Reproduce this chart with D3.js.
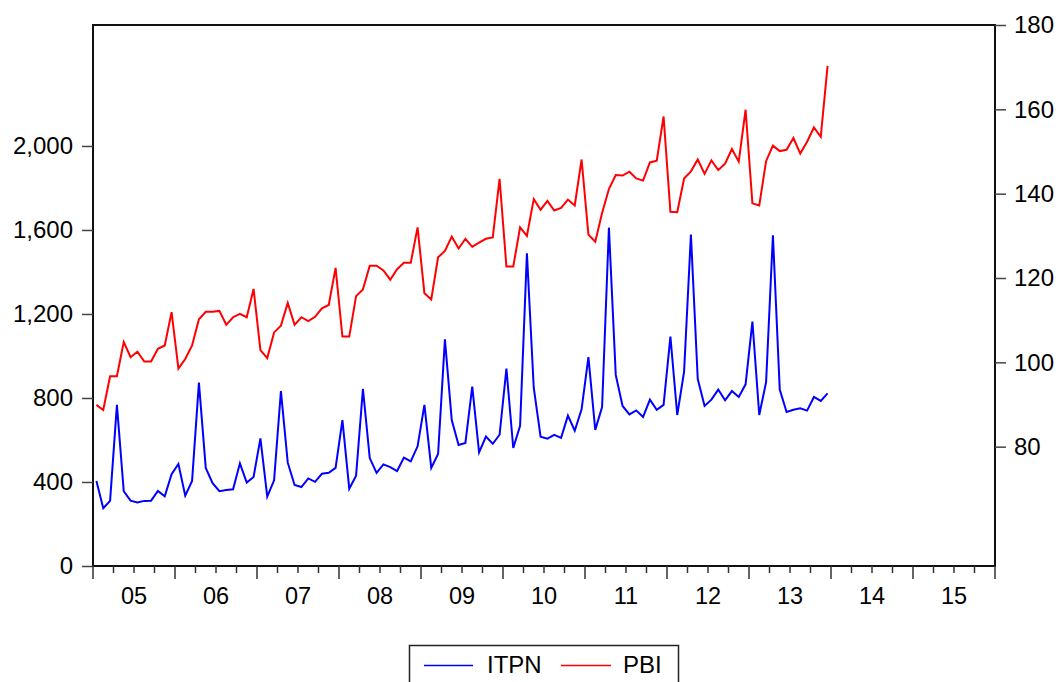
<!DOCTYPE html>
<html>
<head>
<meta charset="utf-8">
<script src="https://cdn.jsdelivr.net/npm/d3@7"></script>
<style>
  html, body { margin: 0; padding: 0; background: #fff; }
  svg { display: block; }
  text { font-family: "Liberation Sans", Arial, sans-serif; fill: #000; }
</style>
</head>
<body>
<svg id="chart" width="1060" height="682"></svg>
<script>
// Monthly observations 2005M01 .. 2013M12
const startYear = 2005;
const months = d3.range(108).map(i => `${startYear + Math.floor(i / 12)}M${String(i % 12 + 1).padStart(2, "0")}`);

const itpn = [
  405, 275, 310, 767, 356, 311, 302, 310, 311, 357, 332, 437,
  486, 335, 405, 873, 467, 394, 356, 362, 365, 489, 397, 424,
  608, 330, 408, 833, 492, 386, 376, 417, 401, 439, 444, 467,
  695, 368, 430, 843, 514, 443, 484, 471, 452, 516, 498, 570,
  767, 467, 533, 1079, 695, 576, 586, 854, 541, 616, 582, 625,
  940, 562, 668, 1489, 849, 616, 606, 624, 610, 716, 644, 746,
  995, 648, 757, 1611, 910, 762, 722, 741, 710, 792, 744, 767,
  1092, 719, 925, 1578, 890, 762, 792, 840, 789, 833, 805, 865,
  1164, 719, 875, 1575, 840, 733, 744, 751, 740, 805, 786, 822
];

const pbi = [
  89.9, 88.7, 96.7, 96.7, 104.8, 101.2, 102.5, 100.2, 100.2, 103.2, 104.0, 111.9,
  98.5, 100.8, 104.0, 110.2, 112.0, 112.0, 112.2, 108.9, 110.7, 111.5, 110.7, 117.4,
  102.9, 101.0, 107.1, 108.7, 114.1, 108.9, 110.7, 109.8, 110.8, 112.8, 113.6, 122.4,
  106.1, 106.1, 115.7, 117.3, 122.9, 122.9, 121.8, 119.6, 122.1, 123.6, 123.6, 132.0,
  116.4, 114.9, 124.9, 126.4, 129.8, 127.0, 129.3, 127.4, 128.4, 129.3, 129.6, 143.5,
  122.7, 122.7, 132.0, 130.0, 138.7, 136.2, 138.3, 136.0, 136.6, 138.6, 137.2, 148.1,
  130.3, 128.6, 135.4, 141.1, 144.4, 144.3, 145.2, 143.6, 143.1, 147.4, 147.8, 158.3,
  135.7, 135.6, 143.6, 145.3, 148.1, 144.7, 147.9, 145.6, 147.1, 150.6, 147.6, 159.9,
  137.7, 137.2, 147.7, 151.4, 150.1, 150.4, 153.2, 149.5, 152.3, 155.7, 153.5, 170.3
];

const leftTicks = [0, 400, 800, 1200, 1600, 2000];
const rightTicks = [80, 100, 120, 140, 160, 180];
const yearLabels = ["05", "06", "07", "08", "09", "10", "11", "12", "13", "14", "15"];
const seriesNames = ["ITPN", "PBI"];
const seriesColors = ["#0000ff", "#ff0000"];

const L = 93, R = 995, T = 25, B = 566;
const svg = d3.select("#chart");

const x = d3.scaleLinear().domain([2005, 2016]).range([L, R]);
const yL = d3.scaleLinear().domain([0, 2576]).range([B, T]);
const yR = d3.scaleLinear().domain([51.7, 180]).range([B, T]);

const tx = i => x(startYear + (i + 0.5) / 12);

// Frame
svg.append("rect").attr("x", L).attr("y", T).attr("width", R - L).attr("height", B - T)
  .attr("fill", "none").attr("stroke", "#111").attr("stroke-width", 2);

// Left axis
const gl = svg.append("g").attr("transform", `translate(${L},0)`)
  .call(d3.axisLeft(yL).tickValues(leftTicks).tickSize(11).tickPadding(9).tickFormat(d3.format(",")));
gl.select(".domain").remove();
gl.selectAll("line").attr("stroke", "#444").attr("stroke-width", 1.5);
gl.selectAll("text").style("font-size", "24px").attr("fill", "#000");

// Right axis
const gr = svg.append("g").attr("transform", `translate(${R},0)`)
  .call(d3.axisRight(yR).tickValues(rightTicks).tickSize(11).tickPadding(8).tickFormat(d3.format("d")));
gr.select(".domain").remove();
gr.selectAll("line").attr("stroke", "#444").attr("stroke-width", 1.5);
gr.selectAll("text").style("font-size", "24px").attr("fill", "#000");

// Bottom axis: quarter minor ticks, year major ticks
const quarterTicks = d3.range(0, 45).map(q => 2005 + q / 4);
const gb = svg.append("g");
gb.selectAll("line").data(quarterTicks).join("line")
  .attr("x1", d => x(d)).attr("x2", d => x(d))
  .attr("y1", B).attr("y2", d => (Math.abs(d - Math.round(d)) < 1e-9) ? B + 13 : B + 7)
  .attr("stroke", "#333").attr("stroke-width", 1.5);
gb.selectAll("text").data(yearLabels).join("text")
  .attr("x", (d, i) => x(2005 + i + 0.5)).attr("y", 604)
  .attr("text-anchor", "middle").style("font-size", "23.5px").text(d => d);

// Lines
const lineL = d3.line().x((d, i) => tx(i)).y(d => yL(d));
const lineR = d3.line().x((d, i) => tx(i)).y(d => yR(d));
svg.append("path").datum(itpn).attr("d", lineL)
  .attr("fill", "none").attr("stroke", seriesColors[0]).attr("stroke-width", 2).attr("stroke-linejoin", "miter");
svg.append("path").datum(pbi).attr("d", lineR)
  .attr("fill", "none").attr("stroke", seriesColors[1]).attr("stroke-width", 2).attr("stroke-linejoin", "miter");

// Legend
const lg = svg.append("g");
lg.append("rect").attr("x", 409.5).attr("y", 645.5).attr("width", 269).attr("height", 60)
  .attr("fill", "#fff").attr("stroke", "#222").attr("stroke-width", 1.5);
const legendItems = [
  { name: seriesNames[0], color: seriesColors[0], x1: 424, x2: 473, tx: 487 },
  { name: seriesNames[1], color: seriesColors[1], x1: 561, x2: 611, tx: 623 }
];
legendItems.forEach(it => {
  lg.append("line").attr("x1", it.x1).attr("x2", it.x2).attr("y1", 665.5).attr("y2", 665.5)
    .attr("stroke", it.color).attr("stroke-width", 1.5);
  lg.append("text").attr("x", it.tx).attr("y", 673).style("font-size", "24px").text(it.name);
});
</script>
</body>
</html>
